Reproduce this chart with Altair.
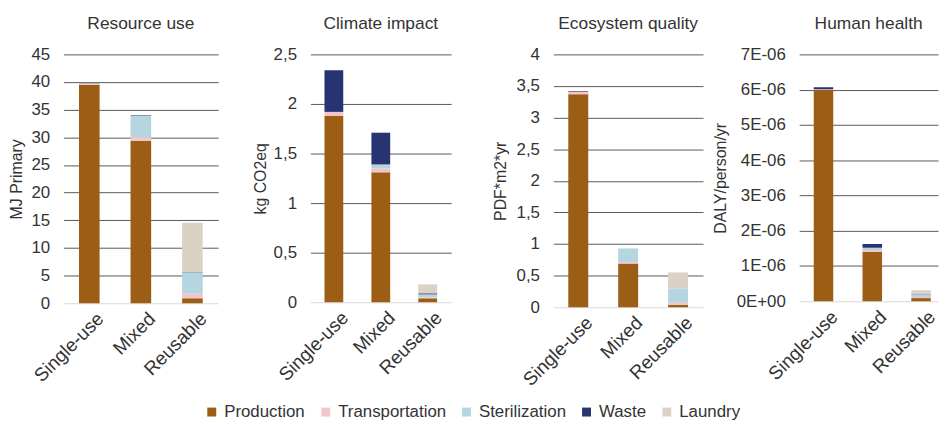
import altair as alt
import pandas as pd

# ---------------- data ----------------
categories = ["Single-use", "Mixed", "Reusable"]
components = ["Production", "Transportation", "Sterilization", "Waste", "Laundry"]
colors = ["#9C5E14", "#F2C4CB", "#B5D5E0", "#283371", "#D9D2C5"]

# Resource use (MJ Primary)
ru_production = [39.5, 29.4, 0.9]
ru_transport = [0.15, 0.6, 0.8]
ru_steril = [0.0, 3.9, 3.9]
ru_waste = [0.05, 0.1, 0.05]
ru_laundry = [0.0, 0.0, 8.9]

# Climate impact (kg CO2eq)
ci_production = [1.88, 1.31, 0.04]
ci_transport = [0.04, 0.04, 0.01]
ci_steril = [0.0, 0.04, 0.03]
ci_waste = [0.42, 0.32, 0.01]
ci_laundry = [0.0, 0.0, 0.09]

# Ecosystem quality (PDF*m2*yr)
eq_production = [3.37, 0.69, 0.04]
eq_transport = [0.04, 0.02, 0.03]
eq_steril = [0.0, 0.22, 0.23]
eq_waste = [0.01, 0.0, 0.0]
eq_laundry = [0.0, 0.0, 0.25]

# Human health (DALY/person/yr)
hh_production = [5.99e-6, 1.40e-6, 0.09e-6]
hh_transport = [0.02e-6, 0.05e-6, 0.03e-6]
hh_steril = [0.0, 0.07e-6, 0.08e-6]
hh_waste = [0.06e-6, 0.10e-6, 0.01e-6]
hh_laundry = [0.0, 0.0, 0.10e-6]

ru_ticks = [0, 5, 10, 15, 20, 25, 30, 35, 40, 45]
ci_ticks = [0, 0.5, 1, 1.5, 2, 2.5]
eq_ticks = [0, 0.5, 1, 1.5, 2, 2.5, 3, 3.5, 4]
hh_ticks = [0, 1e-6, 2e-6, 3e-6, 4e-6, 5e-6, 6e-6, 7e-6]


def make_df(series):
    rows = []
    for ci, (comp, vals) in enumerate(zip(components, series)):
        for cat, v in zip(categories, vals):
            rows.append({"category": cat, "component": comp, "value": v, "order": ci})
    return pd.DataFrame(rows)


TEXT = "#333333"
FONT = "Liberation Sans"

comma_expr = "replace(format(datum.value, '~g'), '.', ',')"
sci_expr = "datum.value == 0 ? '0E+00' : format(round(datum.value * 1e6), 'd') + 'E-06'"

legend = alt.Legend(
    title=None, orient="none", legendX=141, legendY=352, direction="horizontal",
    symbolType="square", symbolSize=81, symbolStrokeWidth=0,
    labelFont=FONT, labelFontSize=17, labelColor=TEXT, labelOffset=4,
    columnPadding=12, padding=0,
)


def panel(df, title, ytitle, ticks, label_expr, width, height, min_extent, title_x,
          pad_outer=0.3, align=0.5):
    yaxis = dict(
        values=ticks,
        title=ytitle,
        domain=False,
        ticks=False,
        labelPadding=14,
        minExtent=min_extent,
        titleX=title_x,
        titleBaseline="middle",
        gridColor={"condition": {"test": "datum.value === 0", "value": "#d9d9d9"},
                   "value": "#595959"},
    )
    if label_expr:
        yaxis["labelExpr"] = label_expr
    return alt.Chart(df).mark_bar().encode(
        x=alt.X("category:N", sort=categories,
                scale=alt.Scale(paddingInner=0.6, paddingOuter=pad_outer, align=align),
                axis=alt.Axis(title=None, labelAngle=-45, labelAlign="right",
                              labelBaseline="top", ticks=False, domain=False,
                              labelPadding=6, labelOffset=5, labelFontSize=19)),
        y=alt.Y("value:Q", stack="zero",
                scale=alt.Scale(domain=[ticks[0], ticks[-1]], nice=False),
                axis=alt.Axis(**yaxis)),
        color=alt.Color("component:N", sort=components,
                        scale=alt.Scale(domain=components, range=colors),
                        legend=legend),
        order=alt.Order("order:Q"),
    ).properties(
        width=width, height=height,
        title=alt.TitleParams(title, frame="group", offset=13),
    )


p1 = panel(make_df([ru_production, ru_transport, ru_steril, ru_waste, ru_laundry]),
           "Resource use", "MJ Primary", ru_ticks, None, 156, 251, 56, -47)
p2 = panel(make_df([ci_production, ci_transport, ci_steril, ci_waste, ci_laundry]),
           "Climate impact", "kg CO2eq", ci_ticks, comma_expr, 142, 250, 93, -50)
p3 = panel(make_df([eq_production, eq_transport, eq_steril, eq_waste, eq_laundry]),
           "Ecosystem quality", "PDF*m2*yr", eq_ticks, comma_expr, 151, 255, 103, -53)
p4 = panel(make_df([hh_production, hh_transport, hh_steril, hh_waste, hh_laundry]),
           "Human health", "DALY/person/yr", hh_ticks, sci_expr, 140, 249, 97, -79,
           pad_outer=0.2226, align=0.669)

chart = alt.hconcat(p1, p2, p3, p4, spacing=0).properties(
    padding={"left": 0, "top": 5, "right": 0, "bottom": 0},
).configure_view(stroke=None).configure_axis(
    labelFont=FONT, labelFontSize=17, labelColor=TEXT,
    titleFont=FONT, titleFontSize=16, titleColor=TEXT, titleFontWeight="normal",
    gridWidth=1,
).configure_title(
    font=FONT, fontSize=17.5, color=TEXT, fontWeight="normal", anchor="middle",
)

chart.save("out.html", embed_options={"renderer": "svg", "actions": False})
